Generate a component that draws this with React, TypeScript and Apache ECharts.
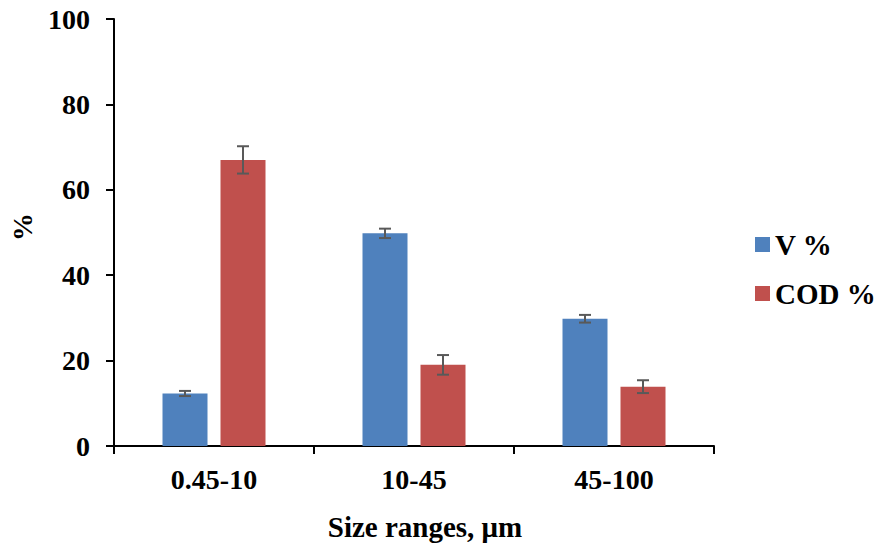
import React, { useEffect, useRef } from "react";
import * as echarts from "echarts";

const categories = ["0.45-10", "10-45", "45-100"];
const vValues = [12.3, 49.8, 29.8];
const vErrors = [0.6, 1.1, 0.9];
const codValues = [67.0, 19.0, 13.9];
const codErrors = [3.2, 2.3, 1.5];
const yTicks = { min: 0, max: 100, interval: 20 };

const FONT = '"Liberation Serif", "Times New Roman", serif';
const BLUE = "#4F81BD";
const RED = "#C0504D";
const BAR_WIDTH = 45;
const BAR_GAP = 13;

function errorSeries(name: string, values: number[], errors: number[], sign: number) {
  return {
    type: "custom",
    name,
    z: 10,
    silent: true,
    encode: { x: 0, y: 1 },
    data: values.map((v, i) => [i, v, errors[i]]),
    renderItem: (params: any, api: any) => {
      const i = api.value(0);
      const v = api.value(1);
      const e = api.value(2);
      const top = api.coord([i, v + e]);
      const bot = api.coord([i, v - e]);
      const x = top[0] + sign * (BAR_WIDTH + BAR_GAP) / 2;
      const cap = 6;
      const style = { stroke: "#595959", lineWidth: 2 };
      return {
        type: "group",
        children: [
          { type: "line", shape: { x1: x, y1: top[1], x2: x, y2: bot[1] }, style },
          { type: "line", shape: { x1: x - cap, y1: top[1], x2: x + cap, y2: top[1] }, style },
          { type: "line", shape: { x1: x - cap, y1: bot[1], x2: x + cap, y2: bot[1] }, style },
        ],
      };
    },
  };
}

export default function App() {
  const ref = useRef<HTMLDivElement>(null);
  useEffect(() => {
    if (!ref.current) return;
    const chart = echarts.init(ref.current, undefined, { renderer: "svg" });
    const labelStyle = { fontFamily: FONT, fontWeight: "bold", fontSize: 28, color: "#000" };
    chart.setOption({
      animation: false,
      backgroundColor: "#fff",
      grid: { left: 114, top: 19, width: 600, height: 427, containLabel: false },
      legend: {
        orient: "vertical",
        left: 755,
        top: 230,
        padding: 0,
        itemWidth: 15,
        itemHeight: 15,
        itemGap: 20,
        icon: "rect",
        data: ["V %", "COD %"],
        textStyle: { ...labelStyle, fontSize: 29, padding: [0, 0, 0, 0] },
      },
      xAxis: {
        type: "category",
        data: categories,
        boundaryGap: true,
        axisLine: { lineStyle: { color: "#000", width: 2 } },
        axisTick: { show: true, length: 8, lineStyle: { color: "#000", width: 2 } },
        axisLabel: { ...labelStyle, margin: 19 },
        splitLine: { show: false },
      },
      yAxis: {
        type: "value",
        min: yTicks.min,
        max: yTicks.max,
        interval: yTicks.interval,
        axisLine: { show: true, lineStyle: { color: "#000", width: 2 } },
        axisTick: { show: true, length: 8, lineStyle: { color: "#000", width: 2 } },
        axisLabel: { ...labelStyle, margin: 24 },
        splitLine: { show: false },
      },
      graphic: [
        {
          type: "text",
          x: 425,
          y: 527,
          style: {
            text: "Size ranges, μm",
            font: `bold 29px ${FONT}`,
            fill: "#000",
            align: "center",
            verticalAlign: "middle",
          },
        },
        {
          type: "text",
          x: 22,
          y: 227,
          rotation: Math.PI / 2,
          style: {
            text: "%",
            font: `bold 28px ${FONT}`,
            fill: "#000",
            align: "center",
            verticalAlign: "middle",
          },
        },
      ],
      series: [
        {
          type: "bar",
          name: "V %",
          data: vValues,
          barWidth: BAR_WIDTH,
          barGap: `${(BAR_GAP / BAR_WIDTH) * 100}%`,
          itemStyle: { color: BLUE },
        },
        {
          type: "bar",
          name: "COD %",
          data: codValues,
          barWidth: BAR_WIDTH,
          barGap: `${(BAR_GAP / BAR_WIDTH) * 100}%`,
          itemStyle: { color: RED },
        },
        errorSeries("V err", vValues, vErrors, -1),
        errorSeries("COD err", codValues, codErrors, 1),
      ],
    });
    return () => chart.dispose();
  }, []);
  return (
    <div
      ref={ref}
      style={{ position: "absolute", left: 0, top: 0, width: 879, height: 548 }}
    />
  );
}
